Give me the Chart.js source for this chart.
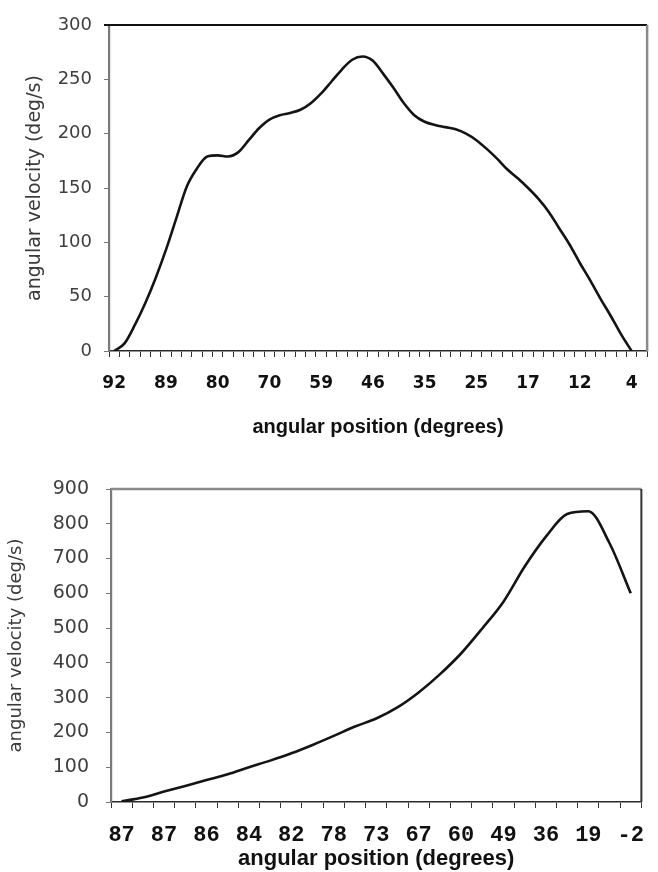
<!DOCTYPE html>
<html>
<head>
<meta charset="utf-8">
<script src="https://cdn.jsdelivr.net/npm/chart.js@4/dist/chart.umd.min.js"></script>
<style>
  html, body { margin: 0; padding: 0; background: #fff; }
  body { width: 658px; height: 872px; position: relative; overflow: hidden; }
  .box { position: absolute; left: 0; width: 658px; }
  #b1 { top: 0; height: 445px; }
  #b2 { top: 445px; height: 427px; }
</style>
</head>
<body>
<div class="box" id="b1"><canvas id="c1"></canvas></div>
<div class="box" id="b2"><canvas id="c2"></canvas></div>
<script>
// ---------- Top chart data ----------
// angular position labels shown every 5th category (52 categories in total)
const topTickLabels = ['92', '89', '80', '70', '59', '46', '35', '25', '17', '12', '4'];
const topCategoryCount = 52;
// angular velocity (deg/s), one value per category
const topVelocity = [0, 7, 24, 44, 67, 93, 122, 151, 168, 179, 180, 179, 183, 194, 205, 213, 217, 219, 222, 228,
  237, 248, 259, 268, 271, 267, 255, 242, 228, 217, 211, 208, 206, 204, 200, 194, 186, 177, 167, 159,
  150, 140, 128, 113, 98, 81, 65, 48, 32, 15, 0];
const topYTicks = [0, 50, 100, 150, 200, 250, 300];

// ---------- Bottom chart data ----------
// angular position labels shown every 2nd category (25 categories in total)
const bottomTickLabels = ['87', '87', '86', '84', '82', '78', '73', '67', '60', '49', '36', '19', '-2'];
const bottomCategoryCount = 25;
const bottomVelocity = [2, 13, 30, 46, 63, 80, 100, 119, 140, 164, 190, 217, 240, 272, 315, 367, 427, 499, 576, 677,
  763, 828, 836, 744, 600];
const bottomYTicks = [0, 100, 200, 300, 400, 500, 600, 700, 800, 900];

const xTitle = 'angular position (degrees)';
const yTitle = 'angular velocity (deg/s)';

function buildCategories(labels, count, every) {
  const cats = new Array(count).fill('');
  labels.forEach((l, k) => { if (k * every < count) cats[k * every] = l; });
  return cats;
}

const frame = {
  id: 'frame',
  afterDatasetsDraw(chart, args, opts) {
    const a = chart.chartArea, ctx = chart.ctx;
    ctx.save();
    ctx.lineCap = 'butt';
    ctx.strokeStyle = opts.topColor; ctx.lineWidth = opts.topWidth;
    ctx.beginPath(); ctx.moveTo(a.left - opts.topExtend, a.top); ctx.lineTo(a.right, a.top); ctx.stroke();
    ctx.strokeStyle = opts.rightColor; ctx.lineWidth = opts.rightWidth;
    ctx.beginPath(); ctx.moveTo(a.right, a.top); ctx.lineTo(a.right, a.bottom); ctx.stroke();
    ctx.restore();
  }
};

function makeChart(id, cfg) {
  return new Chart(document.getElementById(id), {
    type: 'line',
    data: {
      labels: cfg.categories,
      datasets: [{
        data: cfg.values,
        borderColor: '#141414',
        borderWidth: 2.6,
        pointRadius: 0,
        fill: false,
        cubicInterpolationMode: 'monotone'
      }]
    },
    plugins: [frame],
    options: {
      responsive: true,
      maintainAspectRatio: false,
      animation: false,
      events: [],
      layout: { padding: cfg.padding },
      plugins: {
        legend: { display: false },
        tooltip: { enabled: false },
        frame: cfg.frame
      },
      scales: {
        x: {
          type: 'category',
          offset: true,
          border: { display: true, color: '#2a2a2a', width: 1.6 },
          grid: { display: true, drawOnChartArea: false, drawTicks: true, tickLength: 6, tickColor: '#333', tickWidth: 1, offset: true },
          ticks: {
            autoSkip: false, maxRotation: 0, minRotation: 0,
            color: '#111', font: cfg.xTickFont, padding: cfg.xTickPad,
            callback: function (v, i) { return this.getLabelForValue(v); }
          },
          title: { display: true, text: xTitle, color: '#111', font: cfg.xTitleFont, padding: cfg.xTitlePad },
          afterFit: s => { s.height = cfg.xHeight; }
        },
        y: {
          min: cfg.yTicks[0], max: cfg.yTicks[cfg.yTicks.length - 1],
          afterBuildTicks: s => { s.ticks = cfg.yTicks.map(v => ({ value: v })); },
          border: { display: true, color: cfg.yAxisColor, width: 2.2 },
          grid: { display: true, drawOnChartArea: false, drawTicks: true, tickLength: 5, tickColor: '#777', tickWidth: 1 },
          ticks: { color: '#3f3f3f', font: cfg.yTickFont, padding: cfg.yTickPad },
          title: { display: true, text: yTitle, color: '#3a3a3a', font: cfg.yTitleFont, padding: cfg.yTitlePad },
          afterFit: s => { s.width = cfg.yWidth; }
        }
      }
    }
  });
}

makeChart('c1', {
  categories: buildCategories(topTickLabels, topCategoryCount, 5),
  values: topVelocity,
  yTicks: topYTicks,
  padding: { top: 25, right: 5, left: 0, bottom: 0 },
  frame: { topColor: '#111', topWidth: 2, topExtend: 5, rightColor: '#8a8a8a', rightWidth: 2.5 },
  xTickFont: { family: 'DejaVu Sans', size: 17, weight: 'bold' },
  xTickPad: 16,
  xTitleFont: { family: 'Liberation Sans', size: 20, weight: 'bold' },
  xTitlePad: { top: 0, bottom: 6 },
  xHeight: 94,
  yTickFont: { family: 'DejaVu Sans', size: 18 },
  yTickPad: 12,
  yTitleFont: { family: 'DejaVu Sans', size: 19 },
  yTitlePad: { top: 24, bottom: 0 },
  yWidth: 109,
  yAxisColor: '#7a7a7a'
});

makeChart('c2', {
  categories: buildCategories(bottomTickLabels, bottomCategoryCount, 2),
  values: bottomVelocity,
  yTicks: bottomYTicks,
  padding: { top: 44, right: 2, left: 0, bottom: 0 },
  frame: { topColor: '#8a8a8a', topWidth: 2.5, topExtend: 0, rightColor: '#333', rightWidth: 2 },
  xTickFont: { family: 'Liberation Mono', size: 22, weight: 'bold' },
  xTickPad: 14,
  xTitleFont: { family: 'Liberation Sans', size: 22, weight: 'bold' },
  xTitlePad: { top: 0, bottom: 0 },
  xHeight: 70,
  yTickFont: { family: 'DejaVu Sans', size: 19 },
  yTickPad: 17,
  yTitleFont: { family: 'DejaVu Sans', size: 18 },
  yTitlePad: { top: 6, bottom: 0 },
  yWidth: 111,
  yAxisColor: '#7a7a7a'
});
</script>
</body>
</html>
